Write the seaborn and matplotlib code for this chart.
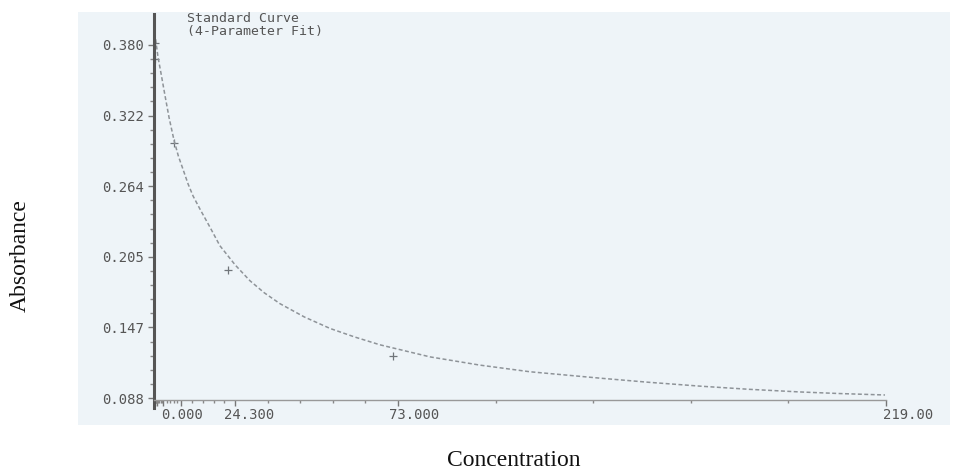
import numpy as np
import matplotlib
matplotlib.use("Agg")
import matplotlib.pyplot as plt
from matplotlib.patches import Rectangle
from matplotlib.transforms import ScaledTranslation
import seaborn as sns
import pandas as pd

# standards (concentration) used for the tick marks
standards = [0, 0.3, 0.9, 2.7, 8.1, 24.3, 73, 219]
x_labels = {0: "0.000", 24.3: "24.300", 73: "73.000", 219: "219.00"}

y_ticks = [0.088, 0.1464, 0.2048, 0.2632, 0.3216, 0.380]
y_labels = ["0.088", "0.147", "0.205", "0.264", "0.322", "0.380"]

# fitted curve
curve_x = [0.2, 0.6, 1.2, 2.2, 3.3, 4.5, 6.0, 7.3, 8.7, 10.2, 11.7, 13.8,
           16.8, 19.7, 24.3, 28.7, 33.0, 37.7, 45.0, 52.7, 60.0, 67.6, 82.6,
           97.5, 112.5, 133.5, 148.0, 163.4, 178.0, 193.3, 205.0, 218.7]
curve_y = [0.390, 0.382, 0.370, 0.355, 0.338, 0.320, 0.301, 0.288, 0.277,
           0.265, 0.255, 0.244, 0.229, 0.214, 0.198, 0.185, 0.175, 0.1660,
           0.1550, 0.1455, 0.1385, 0.1320, 0.1220, 0.1152, 0.1097, 0.1044,
           0.1010, 0.0978, 0.0952, 0.0930, 0.0917, 0.0905]

# measured standards (+ marks)
pt_x = [0.3, 0.3, 6.0, 22.1, 71.5]
pt_y = [0.3816, 0.368, 0.299, 0.194, 0.1227]

curve = pd.DataFrame({"conc": curve_x, "abs": curve_y})
points = pd.DataFrame({"conc": pt_x, "abs": pt_y})

sns.set_style("white")
mono = ["DejaVu Sans Mono"]

fig = plt.figure(figsize=(9.67, 4.72), dpi=100)
W, H = 967, 472

# the scanned paper area
fig.patches.append(Rectangle((78 / W, 1 - 425 / H), 872 / W, 413 / H,
                             transform=fig.transFigure, facecolor="#eef4f8",
                             edgecolor="none", zorder=0))

ax = fig.add_axes([154 / W, 1 - 400 / H, 732 / W, 386 / H])
ax.set_zorder(2)
ax.patch.set_alpha(0)

sns.lineplot(data=curve, x="conc", y="abs", ax=ax, color="#8e9398",
             linewidth=1.1, linestyle=(0, (2.6, 1.6)), estimator=None, sort=False)
sns.scatterplot(data=points, x="conc", y="abs", ax=ax, marker="+", s=30,
                color="#70757a", linewidth=0.9)

ax.set_xlim(0, 219)
ax.set_ylim(0.08635, 0.4056)

# x ticks: every standard, 5 subdivisions between standards
ax.set_xticks(standards)
ax.set_xticklabels([x_labels.get(s, "") for s in standards])
minor_x = []
for a, b in zip(standards[:-1], standards[1:]):
    minor_x += list(np.linspace(a, b, 6)[1:-1])
ax.set_xticks(minor_x, minor=True)

ax.set_yticks(y_ticks)
ax.set_yticklabels(y_labels)
minor_y = []
for a, b in zip(y_ticks[:-1], y_ticks[1:]):
    minor_y += list(np.linspace(a, b, 6)[1:-1])
ax.set_yticks(minor_y, minor=True)

ax.tick_params(axis="both", which="major", direction="out", colors="#777777",
               labelcolor="#555555", width=1, labelsize=10)
ax.tick_params(axis="y", which="major", length=4.5, pad=3, left=True)
ax.tick_params(axis="y", which="minor", length=3, width=1, color="#888888",
               direction="out", left=True)
ax.tick_params(axis="x", which="major", length=4, pad=2, bottom=True)
ax.tick_params(axis="x", which="minor", length=2.5, width=1, color="#888888",
               direction="out", bottom=True)

for lab in ax.get_xticklabels() + ax.get_yticklabels():
    lab.set_fontfamily(mono)

offsets = {"0.000": 7, "24.300": -11, "73.000": -9, "219.00": -3}
for lab in ax.get_xticklabels():
    t = lab.get_text()
    if t:
        lab.set_ha("left")
        lab.set_transform(lab.get_transform() +
                          ScaledTranslation(offsets[t] / 100, 0, fig.dpi_scale_trans))

for s in ["top", "right"]:
    ax.spines[s].set_visible(False)
ax.spines["left"].set_color("#555555")
ax.spines["left"].set_linewidth(2.2)
ax.spines["left"].set_bounds(0.0800, 0.4056)
ax.spines["bottom"].set_color("#999999")
ax.spines["bottom"].set_linewidth(1.0)

ax.set_xlabel("")
ax.set_ylabel("")

fig.text(187 / W, 1 - 12 / H, "Standard Curve\n(4-Parameter Fit)",
         family=mono, fontsize=9.5, color="#555555", va="top", ha="left",
         linespacing=0.95)

serif = ["Liberation Serif", "DejaVu Serif"]
fig.text(20 / W, 1 - 256 / H, "Absorbance", family=serif, fontsize=17,
         rotation=90, ha="center", va="center", color="#111111")
fig.text(514 / W, 1 - 461 / H, "Concentration", family=serif, fontsize=17,
         ha="center", va="center", color="#111111")

fig.savefig("out.png", dpi=100, facecolor="white")
